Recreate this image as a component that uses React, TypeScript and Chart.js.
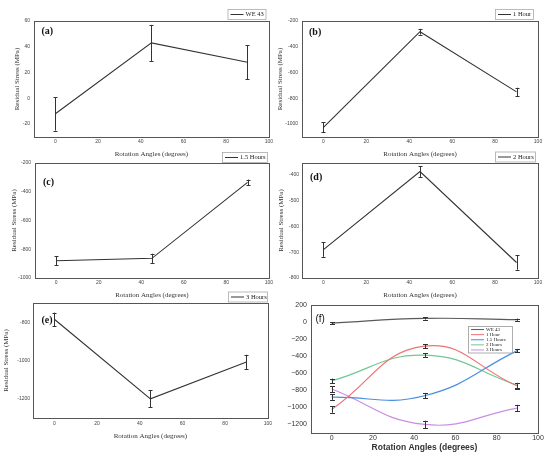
import React, { useEffect, useRef } from 'react';
import { Chart, registerables } from 'chart.js';

Chart.register(...registerables);

// ---------- data ----------
const ANGLES = [0, 45, 90];
const X_TICKS = [0, 20, 40, 60, 80, 100];

const WE43 = [-12, 43, 28];
const WE43_ERR = [13, 14, 13];
const H1 = [-1025, -283, -750];
const H1_ERR = [38, 22, 32];
const H15 = [-880, -863, -335];
const H15_ERR = [32, 32, 20];
const H2 = [-690, -388, -740];
const H2_ERR = [28, 21, 28];
const H3 = [-785, -1200, -1008];
const H3_ERR = [35, 44, 38];

const NAMES = ['WE 43', '1 Hour', '1.5 Hours', '2 Hours', '3 Hours'];

const Y_TICKS_A = [-20, 0, 20, 40, 60];
const Y_TICKS_B = [-1000, -800, -600, -400, -200];
const Y_TICKS_C = [-1000, -800, -600, -400, -200];
const Y_TICKS_D = [-800, -700, -600, -500, -400];
const Y_TICKS_E = [-1200, -1000, -800];
const Y_TICKS_F = [-1200, -1000, -800, -600, -400, -200, 0, 200];

const X_TITLE = 'Rotation Angles (degrees)';
const Y_TITLE = 'Residual Stress (MPa)';

// ---------- styles ----------
const SANS = '"Liberation Sans", Arial, sans-serif';
const SERIF = '"Liberation Serif", "Times New Roman", serif';
const F_COLORS = ['#5a5a5a', '#ef7272', '#4a8fe0', '#72c794', '#c98ee3'];

// ---------- plugins ----------
const framePlugin = {
  id: 'frame',
  afterDraw(chart: any, _a: any, o: any) {
    const { left, top, right, bottom } = chart.chartArea;
    const ctx = chart.ctx;
    ctx.save();
    ctx.strokeStyle = o.color;
    ctx.lineWidth = o.width;
    ctx.strokeRect(Math.round(left) + 0.5, Math.round(top) + 0.5, Math.round(right - left), Math.round(bottom - top));
    ctx.restore();
  },
};

const errorBarsPlugin = {
  id: 'errorBars',
  afterDatasetsDraw(chart: any, _a: any, o: any) {
    const ctx = chart.ctx;
    const xs = chart.scales.x;
    const ys = chart.scales.y;
    ctx.save();
    ctx.strokeStyle = o.color;
    ctx.lineWidth = o.width;
    chart.data.datasets.forEach((ds: any) => {
      if (!ds.errors) return;
      ds.data.forEach((p: any, i: number) => {
        const e = ds.errors[i];
        const px = Math.round(xs.getPixelForValue(p.x)) + 0.5;
        const y1 = ys.getPixelForValue(p.y + e);
        const y2 = ys.getPixelForValue(p.y - e);
        ctx.beginPath();
        ctx.moveTo(px, y1);
        ctx.lineTo(px, y2);
        ctx.moveTo(px - o.cap, Math.round(y1) + 0.5);
        ctx.lineTo(px + o.cap, Math.round(y1) + 0.5);
        ctx.moveTo(px - o.cap, Math.round(y2) + 0.5);
        ctx.lineTo(px + o.cap, Math.round(y2) + 0.5);
        ctx.stroke();
      });
    });
    ctx.restore();
  },
};

const boxLegendPlugin = {
  id: 'boxLegend',
  afterDraw(chart: any, _a: any, o: any) {
    if (!o || !o.items) return;
    const ctx = chart.ctx;
    ctx.save();
    const h = o.rowH * o.items.length + o.padY * 2;
    ctx.fillStyle = '#fff';
    ctx.fillRect(o.x, o.y, o.w, h);
    ctx.strokeStyle = o.border;
    ctx.lineWidth = 0.8;
    ctx.strokeRect(o.x + 0.5, o.y + 0.5, o.w, h);
    ctx.font = `${o.fontSize}px ${SERIF}`;
    ctx.textBaseline = 'middle';
    ctx.textAlign = 'left';
    o.items.forEach((it: any, i: number) => {
      const cy = o.y + o.padY + o.rowH * i + o.rowH / 2 + 0.5;
      ctx.strokeStyle = it.color;
      ctx.lineWidth = o.lineW;
      ctx.beginPath();
      ctx.moveTo(o.x + 3, cy);
      ctx.lineTo(o.x + 3 + o.lineLen, cy);
      ctx.stroke();
      ctx.fillStyle = '#222';
      ctx.fillText(it.text, o.x + 5 + o.lineLen, cy);
    });
    ctx.restore();
  },
};

const panelLabelPlugin = {
  id: 'panelLabel',
  afterDraw(chart: any, _a: any, o: any) {
    if (!o || !o.text) return;
    const ctx = chart.ctx;
    ctx.save();
    ctx.font = o.font;
    ctx.fillStyle = '#111';
    ctx.textBaseline = 'middle';
    ctx.textAlign = 'left';
    ctx.fillText(o.text, chart.chartArea.left + o.dx, chart.chartArea.top + o.dy);
    ctx.restore();
  },
};

const PLUGINS = [framePlugin, errorBarsPlugin, boxLegendPlugin, panelLabelPlugin];

function singleConfig(p: any) {
  return {
    type: 'line',
    data: {
      datasets: [
        {
          data: ANGLES.map((x, i) => ({ x, y: p.values[i] })),
          errors: p.errors,
          borderColor: '#333',
          borderWidth: 1.1,
          pointRadius: 0,
          tension: 0,
          fill: false,
        },
      ],
    },
    options: {
      animation: false,
      responsive: false,
      maintainAspectRatio: false,
      layout: { padding: { left: 0, right: p.padRight, top: p.padTop, bottom: 0 } },
      plugins: {
        legend: { display: false },
        tooltip: { enabled: false },
        frame: { color: '#555', width: 1 },
        errorBars: { color: '#333', width: 1, cap: 2 },
        boxLegend: {
          x: p.legend.x, y: p.legend.y, w: p.legend.w, rowH: 9, padY: 0.5,
          fontSize: 6.5, lineLen: 13, lineW: 1, border: '#aaa',
          items: [{ text: p.name, color: '#333' }],
        },
        panelLabel: { text: p.label, dx: p.labelPos[0], dy: p.labelPos[1], font: `bold 10px ${SERIF}` },
      },
      scales: {
        x: {
          type: 'linear',
          min: -10,
          max: 100,
          afterBuildTicks: (a: any) => { a.ticks = X_TICKS.map((v) => ({ value: v })); },
          afterFit: (a: any) => { a.height = p.xHeight; },
          grid: { display: false, drawTicks: false },
          border: { display: false },
          ticks: { padding: p.xTickPad, autoSkip: false, maxRotation: 0, font: { family: SANS, size: 5 }, color: '#444', callback: (v: any) => String(v) },
          title: { display: true, text: X_TITLE, font: { family: SERIF, size: 7 }, color: '#333', padding: { top: 0, bottom: p.xTitlePad } },
        },
        y: {
          type: 'linear',
          min: p.yMin,
          max: p.yMax,
          afterBuildTicks: (a: any) => { a.ticks = p.yTicks.map((v: number) => ({ value: v })); },
          afterFit: (a: any) => { a.width = p.yWidth; },
          grid: { display: false, drawTicks: false },
          border: { display: false },
          ticks: { padding: p.yTickPad, autoSkip: false, font: { family: SANS, size: 5 }, color: '#444', callback: (v: any) => String(v) },
          title: { display: true, text: Y_TITLE, font: { family: SERIF, size: 7 }, color: '#333', padding: { top: p.yTitlePad, bottom: 0 } },
        },
      },
    },
    plugins: PLUGINS,
  };
}

function combinedConfig() {
  const series = [WE43, H1, H15, H2, H3];
  const errs = [WE43_ERR, H1_ERR, H15_ERR, H2_ERR, H3_ERR];
  return {
    type: 'line',
    data: {
      datasets: series.map((vals, k) => ({
        data: ANGLES.map((x, i) => ({ x, y: vals[i] })),
        errors: errs[k],
        borderColor: F_COLORS[k],
        borderWidth: 1.2,
        pointRadius: 0,
        tension: 0.45,
        fill: false,
      })),
    },
    options: {
      animation: false,
      responsive: false,
      maintainAspectRatio: false,
      layout: { padding: { left: 0, right: 12, top: 15, bottom: 0 } },
      plugins: {
        legend: { display: false },
        tooltip: { enabled: false },
        frame: { color: '#555', width: 1 },
        errorBars: { color: '#333', width: 1, cap: 2.5 },
        boxLegend: {
          x: 193, y: 36, w: 44, rowH: 5.1, padY: 0.5,
          fontSize: 5, lineLen: 13, lineW: 1, border: '#999',
          items: NAMES.map((n, k) => ({ text: n, color: F_COLORS[k] })),
        },
        panelLabel: { text: '(f)', dx: 4.5, dy: 14, font: `10px ${SANS}` },
      },
      scales: {
        x: {
          type: 'linear',
          min: -10,
          max: 100,
          afterBuildTicks: (a: any) => { a.ticks = X_TICKS.map((v) => ({ value: v })); },
          afterFit: (a: any) => { a.height = 25; },
          grid: { display: false, drawTicks: false },
          border: { display: false },
          ticks: { padding: 0.5, autoSkip: false, maxRotation: 0, font: { family: SANS, size: 7 }, color: '#333', callback: (v: any) => String(v) },
          title: { display: true, text: X_TITLE, font: { family: SANS, size: 8.5, weight: 'bold' }, color: '#333', padding: { top: 0, bottom: 5.5 } },
        },
        y: {
          type: 'linear',
          min: -1300,
          max: 200,
          afterBuildTicks: (a: any) => { a.ticks = Y_TICKS_F.map((v) => ({ value: v })); },
          afterFit: (a: any) => { a.width = 36; },
          grid: { display: false, drawTicks: false },
          border: { display: false },
          ticks: { padding: 4, autoSkip: false, font: { family: SANS, size: 7 }, color: '#333', callback: (v: any) => String(v).replace('-', '\u2212') },
        },
      },
    },
    plugins: PLUGINS,
  };
}

function Panel({ make, left, top, width, height }: any) {
  const ref = useRef<HTMLCanvasElement>(null);
  useEffect(() => {
    const chart = new Chart(ref.current as HTMLCanvasElement, make() as any);
    return () => chart.destroy();
  }, []);
  return (
    <canvas
      ref={ref}
      width={width}
      height={height}
      style={{ position: 'absolute', left, top, width, height }}
    />
  );
}

const cfgA = () => singleConfig({
  values: WE43, errors: WE43_ERR, name: NAMES[0], label: '(a)', labelPos: [7.5, 10.5],
  yMin: -30, yMax: 60, yTicks: Y_TICKS_A, yWidth: 34, padRight: 6, padTop: 21,
  xHeight: 25, xTickPad: 2, xTitlePad: 3.5, yTickPad: 4, yTitlePad: 13,
  legend: { x: 227.5, y: 9, w: 38 },
});
const cfgB = () => singleConfig({
  values: H1, errors: H1_ERR, name: NAMES[1], label: '(b)', labelPos: [7, 11],
  yMin: -1100, yMax: -200, yTicks: Y_TICKS_B, yWidth: 27, padRight: 12, padTop: 21,
  xHeight: 25, xTickPad: 2, xTitlePad: 3.5, yTickPad: 4, yTitlePad: 1,
  legend: { x: 220, y: 9, w: 38 },
});
const cfgC = () => singleConfig({
  values: H15, errors: H15_ERR, name: NAMES[2], label: '(c)', labelPos: [8, 19],
  yMin: -1000, yMax: -200, yTicks: Y_TICKS_C, yWidth: 35, padRight: 6, padTop: 18,
  xHeight: 24, xTickPad: 2, xTitlePad: 2.8, yTickPad: 4, yTitlePad: 10,
  legend: { x: 222, y: 7, w: 45 },
});
const cfgD = () => singleConfig({
  values: H2, errors: H2_ERR, name: NAMES[3], label: '(d)', labelPos: [8, 14],
  yMin: -800, yMax: -355, yTicks: Y_TICKS_D, yWidth: 27, padRight: 12, padTop: 18,
  xHeight: 24, xTickPad: 2, xTitlePad: 2.8, yTickPad: 3, yTitlePad: 2,
  legend: { x: 220, y: 6.5, w: 40 },
});
const cfgE = () => singleConfig({
  values: H3, errors: H3_ERR, name: NAMES[4], label: '(e)', labelPos: [8.5, 17.5],
  yMin: -1300, yMax: -700, yTicks: Y_TICKS_E, yWidth: 33, padRight: 6, padTop: 18,
  xHeight: 40, xTickPad: 3, xTitlePad: 17.8, yTickPad: 3, yTitlePad: 2,
  legend: { x: 228, y: 6.5, w: 39 },
});

export default function App() {
  return (
    <div style={{ position: 'absolute', left: 0, top: 0, width: 550, height: 458, background: '#fff', overflow: 'hidden' }}>
      <Panel make={cfgA} left={0} top={0} width={275} height={162} />
      <Panel make={cfgB} left={275} top={0} width={275} height={162} />
      <Panel make={cfgC} left={0} top={145} width={275} height={157} />
      <Panel make={cfgD} left={275} top={145} width={275} height={157} />
      <Panel make={cfgE} left={0} top={285} width={275} height={173} />
      <Panel make={combinedConfig} left={275} top={290} width={275} height={168} />
    </div>
  );
}
